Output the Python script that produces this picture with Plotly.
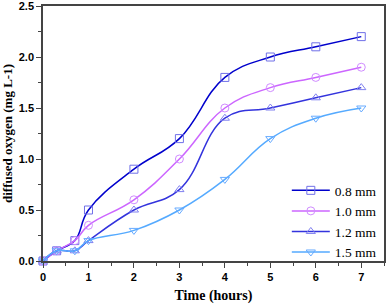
import plotly.graph_objects as go

time_h = [0, 0.3, 0.7, 1, 2, 3, 4, 5, 6, 7]
s08 = [0, 0.1, 0.2, 0.5, 0.9, 1.2, 1.8, 2.0, 2.1, 2.2]
s10 = [0, 0.1, 0.2, 0.35, 0.6, 1.0, 1.5, 1.7, 1.8, 1.9]
s12 = [0, 0.1, 0.1, 0.2, 0.5, 0.7, 1.4, 1.5, 1.6, 1.7]
s15 = [0, 0.1, 0.1, 0.2, 0.3, 0.5, 0.8, 1.2, 1.4, 1.5]
names = ["0.8 mm", "1.0 mm", "1.2 mm", "1.5 mm"]
series = [s08, s10, s12, s15]
line_colors = ["#0000CC", "#CC66FF", "#3333DD", "#55AAFF"]
marker_colors = ["#7070E8", "#D08CFF", "#8080F0", "#66AAFF"]
symbols = ["square-open", "circle-open", "triangle-up-open", "triangle-down-open"]

fig = go.Figure()
for name, ys, lc, mc, sym in zip(names, series, line_colors, marker_colors, symbols):
    fig.add_trace(go.Scatter(
        x=time_h, y=ys, name=name, mode="lines+markers",
        line=dict(color=lc, width=1.5, shape="spline", smoothing=1.2),
        marker=dict(symbol=sym, size=8, color=mc, line=dict(width=1, color=mc)),
        cliponaxis=False,
    ))

axis_common = dict(
    showline=True, linecolor="#444444", linewidth=1.5, mirror=True,
    ticks="outside", ticklen=5, tickwidth=1, tickcolor="#444444",
    showgrid=False, zeroline=False, automargin=False, ticklabeloverflow="allow",
    tickfont=dict(family="Liberation Sans", size=11, color="black", weight="bold"),
)
fig.update_xaxes(range=[0, 7.5], autorange=False, dtick=1, tick0=0,
                 minor=dict(ticks="outside", dtick=0.5, ticklen=3, tickcolor="#444444"),
                 title=dict(text="Time (hours)", standoff=10,
                            font=dict(family="Liberation Serif", size=14, color="black", weight="bold")),
                 **axis_common)
fig.update_yaxes(range=[0, 2.5001], autorange=False, dtick=0.5, tick0=0, tickformat=".1f",
                 minor=dict(ticks="outside", dtick=0.25, ticklen=3, tickcolor="#444444"),
                 title=dict(text="diffused oxygen (mg L-1)", standoff=6,
                            font=dict(family="Liberation Serif", size=13, color="black", weight="bold")),
                 **axis_common)
fig.update_layout(
    width=387, height=304,
    margin=dict(l=43, r=3, t=6, b=43, autoexpand=False),
    plot_bgcolor="white", paper_bgcolor="white",
    legend=dict(x=0.715, xanchor="left", y=0.337, yanchor="top",
                bgcolor="rgba(0,0,0,0)", itemwidth=38, tracegroupgap=0,
                font=dict(family="Liberation Serif", size=13.5, color="black")),
)
fig.write_html("out.html", config={"displayModeBar": False},
               post_script="document.body.style.margin='0';document.body.style.overflow='hidden';")
